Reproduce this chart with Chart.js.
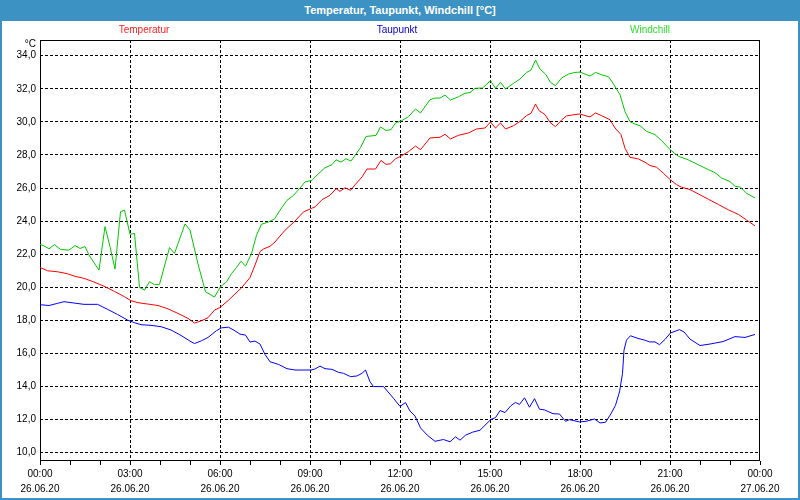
<!DOCTYPE html>
<html>
<head>
<meta charset="utf-8">
<script src="https://cdn.jsdelivr.net/npm/chart.js@4.4.1/dist/chart.umd.min.js"></script>
<style>
body{margin:0;background:#fff;}
#frame{position:relative;width:800px;height:500px;background:#fff;overflow:hidden;font-family:"Liberation Sans",Arial,sans-serif;}
#chart{position:absolute;left:0;top:0;}
#titlebar{position:absolute;left:0;top:0;width:800px;height:21px;background:#3d92c4;color:#fff;font-weight:bold;font-size:11px;line-height:20px;text-align:center;}
.bl{position:absolute;background:#3d92c4;}
.leg{position:absolute;top:24px;width:160px;margin-left:-80px;text-align:center;font-size:10px;line-height:12px;}
#unit{position:absolute;left:0;width:36px;top:38px;text-align:right;font-size:10px;line-height:12px;color:#000;}
</style>
</head>
<body>
<div id="frame">
  <canvas id="chart" width="800" height="500"></canvas>
  <div id="titlebar"></div>
  <div class="bl" style="left:0;top:0;width:2px;height:500px"></div>
  <div class="bl" style="right:0;top:0;width:2px;height:500px"></div>
  <div class="bl" style="left:0;bottom:0;width:800px;height:2px"></div>
  <div id="unit">°C</div>
  <div id="legend"></div>
</div>
<script>
// ---- data (time in minutes since 26.06.20 00:00) ----
const chartTitle = "Temperatur, Taupunkt, Windchill [°C]";
const seriesNames = ["Temperatur", "Taupunkt", "Windchill"];
const seriesColors = ["#ff0000", "#0000ff", "#00c800"];
const legendColors = ["#ff2020", "#0000d0", "#30e030"];
const legendCenters = [144, 397, 650];

const tempTimes = [0,15,35,55,68,88,108,130,149,169,182,196,215,236,256,276,296,309,323,336,349,360,377,403,420,430,440,447,460,470,490,510,527,542,550,564,580,592,600,610,621,631,644,654,671,682,692,701,711,720,737,751,761,780,800,810,821,837,857,873,890,901,911,921,931,947,960,973,982,991,998,1010,1020,1031,1043,1053,1070,1080,1090,1100,1111,1123,1140,1150,1162,1170,1180,1197,1210,1220,1233,1247,1261,1273,1283,1300,1317,1337,1357,1377,1397,1413,1430];
const tempValues = [21.2,21.0,20.94,20.82,20.68,20.54,20.32,20.04,19.75,19.43,19.19,19.07,18.99,18.9,18.7,18.42,18.12,17.84,17.98,18.16,18.62,18.78,19.22,19.97,20.59,21.34,22.16,22.32,22.48,22.74,23.45,24.01,24.56,24.76,24.86,25.3,25.56,25.96,25.8,26.02,25.86,26.23,26.67,27.15,27.15,27.67,27.43,27.47,27.77,27.9,28.2,28.54,28.32,29.03,29.07,29.25,28.97,29.19,29.33,29.57,29.63,29.99,29.63,29.93,29.57,29.77,30.03,30.38,30.52,31.08,30.68,30.44,29.97,29.71,30.11,30.36,30.44,30.48,30.38,30.3,30.54,30.38,30.13,29.63,29.23,28.4,27.86,27.76,27.56,27.36,27.26,26.89,26.49,26.21,26.05,25.91,25.64,25.32,25.0,24.68,24.4,24.07,23.71];

const dewTimes = [0,18,35,48,68,88,115,135,155,175,189,202,222,242,262,282,302,309,323,336,353,363,377,390,400,411,420,430,440,450,460,477,494,510,542,550,560,570,584,597,607,621,634,644,651,660,667,687,707,720,731,740,750,761,775,790,807,820,831,840,851,865,880,892,902,911,920,930,942,951,959,969,979,989,999,1009,1026,1039,1051,1059,1079,1092,1109,1120,1131,1142,1151,1159,1165,1168,1173,1181,1196,1209,1219,1230,1239,1250,1261,1279,1288,1300,1320,1340,1366,1390,1410,1430];
const dewValues = [18.95,18.9,19.03,19.13,19.05,18.97,18.97,18.67,18.36,18.02,17.86,17.74,17.7,17.62,17.42,17.09,16.71,16.6,16.77,16.97,17.38,17.55,17.59,17.37,17.17,17.11,16.69,16.75,16.57,15.94,15.5,15.34,15.08,15.0,15.0,15.06,15.24,15.08,15.04,14.86,14.8,14.6,14.64,14.8,15.0,14.29,14.0,14.0,13.29,12.8,13.03,12.52,12.22,11.5,11.05,10.69,10.8,10.66,10.96,10.76,11.06,11.24,11.36,11.72,12.02,12.12,12.55,12.43,12.85,13.04,12.92,13.32,12.75,13.27,12.63,12.59,12.36,12.34,11.9,12.0,11.86,11.9,12.04,11.8,11.84,12.36,12.87,13.68,14.79,16.2,16.81,17.07,16.91,16.81,16.7,16.7,16.53,16.85,17.24,17.44,17.3,16.87,16.48,16.57,16.72,17.02,16.97,17.15];

const chillTimes = [0,8,18,29,41,58,70,80,90,98,108,118,130,140,150,161,169,180,189,199,209,219,229,239,259,269,290,300,316,331,349,361,373,383,393,402,411,423,433,443,457,469,480,494,507,520,530,544,557,570,584,592,602,612,622,631,641,652,672,681,692,702,711,723,737,751,761,780,790,800,810,821,837,850,860,870,885,901,911,921,931,947,960,973,982,991,1000,1011,1021,1031,1043,1057,1070,1080,1090,1100,1111,1123,1137,1147,1160,1170,1180,1190,1200,1213,1230,1243,1261,1277,1297,1317,1337,1350,1363,1380,1390,1401,1413,1430];
const chillValues = [22.6,22.5,22.33,22.58,22.29,22.25,22.52,22.35,22.46,21.95,21.49,21.04,23.67,22.46,21.1,24.57,24.67,23.2,23.26,20.0,19.83,20.34,20.16,20.18,22.4,22.05,23.83,23.46,21.41,19.73,19.41,20.04,20.33,20.83,21.2,21.58,21.28,22.04,23.15,23.81,23.95,24.13,24.66,25.26,25.56,26.0,26.37,26.47,26.87,27.23,27.41,27.71,27.57,27.77,27.63,28.02,28.44,29.12,29.18,29.69,29.48,29.53,29.93,30.07,30.32,30.78,30.54,31.34,31.44,31.44,31.62,31.32,31.52,31.73,31.77,32.03,32.05,32.49,32.03,32.39,31.99,32.33,32.59,32.99,33.13,33.74,33.19,32.89,32.39,32.19,32.65,32.89,32.99,33.01,32.89,32.77,32.99,32.85,32.73,32.29,31.64,30.62,30.01,29.87,29.77,29.43,29.23,28.87,28.3,27.92,27.7,27.4,27.11,26.93,26.61,26.39,26.11,26.05,25.69,25.4];

const yTickValues = [10,12,14,16,18,20,22,24,26,28,30,32,34];
const xLabelTimes = ["00:00","03:00","06:00","09:00","12:00","15:00","18:00","21:00","00:00"];
const xLabelDates = ["26.06.20","26.06.20","26.06.20","26.06.20","26.06.20","26.06.20","26.06.20","26.06.20","27.06.20"];
const xMin = 0, xMax = 1440, yMin = 9.5, yMax = 34.95;

// ---- page text ----
document.getElementById('titlebar').textContent = chartTitle;
const legendEl = document.getElementById('legend');
seriesNames.forEach((n, i) => {
  const d = document.createElement('div');
  d.className = 'leg';
  d.style.left = legendCenters[i] + 'px';
  d.style.color = legendColors[i];
  d.textContent = n;
  legendEl.appendChild(d);
});

const hourTicks = [];
for (let m = xMin; m <= xMax; m += 60) hourTicks.push(m);

function pts(ts, vs) { return ts.map((t, i) => ({x: t, y: vs[i]})); }

const framePlugin = {
  id: 'frame',
  beforeDatasetsDraw(chart) {
    const a = chart.chartArea, c = chart.ctx;
    c.save();
    c.strokeStyle = '#000';
    c.lineWidth = 1;
    c.setLineDash([]);
    c.strokeRect(Math.round(a.left) + 0.5, Math.round(a.top) + 0.5,
                 Math.round(a.right - a.left) - 1, Math.round(a.bottom - a.top) - 1);
    c.restore();
  }
};

const fontSpec = {family: '"Liberation Sans", Arial, sans-serif', size: 10};

new Chart(document.getElementById('chart'), {
  type: 'line',
  data: {
    datasets: [
      {label: seriesNames[0], data: pts(tempTimes, tempValues), borderColor: seriesColors[0]},
      {label: seriesNames[1], data: pts(dewTimes, dewValues), borderColor: seriesColors[1]},
      {label: seriesNames[2], data: pts(chillTimes, chillValues), borderColor: seriesColors[2]}
    ].map(d => Object.assign(d, {borderWidth: 1, pointRadius: 0, tension: 0, fill: false}))
  },
  options: {
    responsive: false,
    animation: false,
    devicePixelRatio: 1,
    layout: {padding: {top: 40, right: 40, left: 0, bottom: 0}},
    plugins: {legend: {display: false}, title: {display: false}, tooltip: {enabled: false}},
    scales: {
      x: {
        type: 'linear', min: xMin, max: xMax,
        afterFit: s => { s.height = 39; },
        afterBuildTicks: s => { s.ticks = hourTicks.map(v => ({value: v})); },
        border: {display: false, dash: [3, 2]},
        grid: {
          color: c => (c.tick && c.tick.value % 180 === 0 && c.tick.value > xMin && c.tick.value < xMax) ? '#000' : 'rgba(0,0,0,0)',
          lineWidth: 1, borderDash: [3, 2],
          drawTicks: true, tickLength: 4, tickColor: '#000', tickWidth: 1, tickBorderDash: []
        },
        ticks: {
          autoSkip: false, maxRotation: 0, minRotation: 0, padding: 2, color: '#000',
          font: Object.assign({lineHeight: 1.5}, fontSpec),
          callback: v => (v % 180 === 0) ? [xLabelTimes[v / 180], xLabelDates[v / 180]] : ''
        }
      },
      y: {
        type: 'linear', min: yMin, max: yMax,
        afterFit: s => { s.width = 40; },
        afterBuildTicks: s => { s.ticks = yTickValues.map(v => ({value: v})); },
        border: {display: false, dash: [3, 2]},
        grid: {color: '#000', lineWidth: 1, borderDash: [3, 2], drawTicks: false},
        ticks: {
          padding: 4, color: '#000', font: fontSpec,
          callback: v => v.toFixed(1).replace('.', ',')
        }
      }
    }
  },
  plugins: [framePlugin]
});
</script>
</body>
</html>
